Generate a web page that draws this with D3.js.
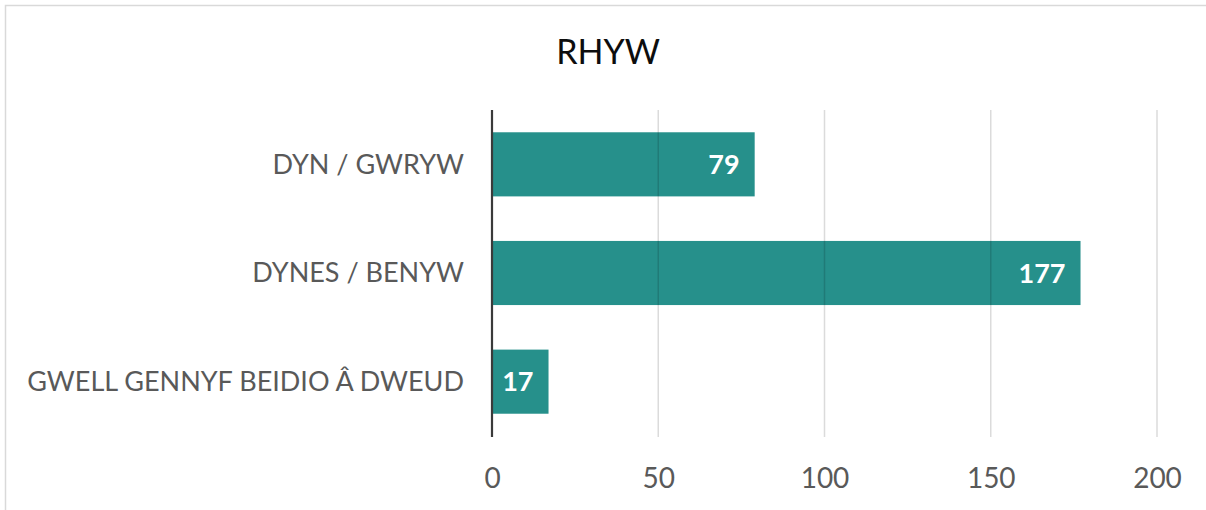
<!DOCTYPE html>
<html>
<head>
<meta charset="utf-8">
<script src="https://cdn.jsdelivr.net/npm/d3@7"></script>
<style>
  html, body { margin: 0; padding: 0; background: #fff; }
  svg { display: block; }
</style>
</head>
<body>
<svg id="chart" width="1206" height="510"></svg>
<script>
const title = "RHYW";
const categories = ["DYN / GWRYW", "DYNES / BENYW", "GWELL GENNYF BEIDIO Â DWEUD"];
const values = [79, 177, 17];
const xTicks = [0, 50, 100, 150, 200];

const W = 1206, H = 510;
const margin = { left: 492, right: 49, top: 110, bottom: 74 };
const font = "Lato, 'Open Sans', sans-serif";

const svg = d3.select("#chart");

// frame
svg.append("rect")
  .attr("x", 5.5).attr("y", 5.5)
  .attr("width", W + 20).attr("height", H + 20)
  .attr("fill", "none").attr("stroke", "#d9d9d9").attr("stroke-width", 1.5);

const x = d3.scaleLinear().domain([0, 200]).range([margin.left, W - margin.right]);
const y = d3.scaleBand().domain(categories)
  .range([margin.top, H - margin.bottom])
  .paddingInner(0.41).paddingOuter(0.205);

// bars
svg.append("g").selectAll("rect")
  .data(categories)
  .join("rect")
  .attr("x", x(0))
  .attr("y", d => y(d))
  .attr("width", (d, i) => x(values[i]) - x(0))
  .attr("height", y.bandwidth())
  .attr("fill", "#26908b");

// gridlines (drawn over bars, light)
svg.append("g").selectAll("line")
  .data(xTicks.slice(1))
  .join("line")
  .attr("x1", d => x(d)).attr("x2", d => x(d))
  .attr("y1", margin.top).attr("y2", H - margin.bottom + 1)
  .attr("stroke", "rgba(0,0,0,0.14)").attr("stroke-width", 1.5);

// zero axis
svg.append("line")
  .attr("x1", x(0)).attr("x2", x(0))
  .attr("y1", margin.top).attr("y2", H - margin.bottom + 1)
  .attr("stroke", "#3a3a3a").attr("stroke-width", 2.2);

// x tick labels via axis
const xAxis = d3.axisBottom(x).tickValues(xTicks).tickSize(0).tickPadding(0);
const gx = svg.append("g")
  .attr("transform", `translate(0,${H - margin.bottom})`)
  .call(xAxis);
gx.select(".domain").remove();
gx.selectAll("text")
  .attr("y", 0).attr("dy", "0")
  .attr("transform", "translate(0,52)")
  .attr("font-family", font).attr("font-size", 28).attr("fill", "#595959");

// category labels via axis
const yAxis = d3.axisLeft(y).tickSize(0).tickPadding(28);
const gy = svg.append("g")
  .attr("transform", `translate(${x(0)},0)`)
  .call(yAxis);
gy.select(".domain").remove();
gy.selectAll("text")
  .attr("font-family", font).attr("font-size", 27).attr("fill", "#595959")
  .attr("dy", "0.35em");

// value labels
svg.append("g").selectAll("text")
  .data(categories)
  .join("text")
  .attr("x", (d, i) => x(values[i]) - 15)
  .attr("y", d => y(d) + y.bandwidth() / 2)
  .attr("dy", "0.36em")
  .attr("text-anchor", "end")
  .attr("font-family", font).attr("font-weight", 700).attr("font-size", 27)
  .attr("fill", "#ffffff")
  .text((d, i) => values[i]);

// title
svg.append("text")
  .attr("x", 608).attr("y", 64)
  .attr("text-anchor", "middle")
  .attr("font-family", font).attr("font-size", 34).attr("fill", "#0d0d0d")
  .text(title);
</script>
</body>
</html>
